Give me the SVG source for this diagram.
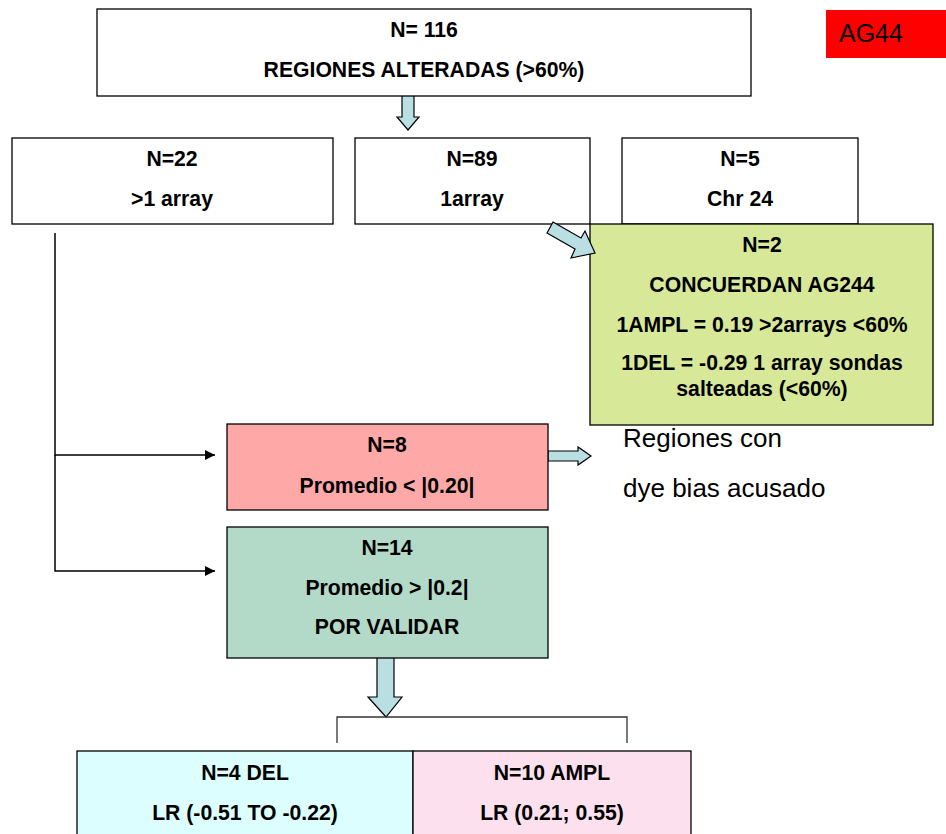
<svg xmlns="http://www.w3.org/2000/svg" width="946" height="834" viewBox="0 0 946 834">
<defs>
<style>
.box{stroke:#000;stroke-width:1.3}
.t{font-family:"Liberation Sans",Arial,sans-serif;font-weight:bold;font-size:21.2px;fill:#000;text-anchor:middle}
.n{font-family:"Liberation Sans",Arial,sans-serif;font-size:26px;fill:#000}
.ln{stroke:#000;stroke-width:1.5;fill:none}
.blk{fill:#b9dfe3;stroke:#000;stroke-width:1.2}
.br{stroke:#333;stroke-width:1.3;fill:none}
</style>
<marker id="ah" viewBox="0 0 10 10" refX="10" refY="5" markerWidth="10" markerHeight="10" markerUnits="userSpaceOnUse" orient="auto"><path d="M0,0 L10,5 L0,10 z" fill="#000"/></marker>
</defs>
<rect width="946" height="834" fill="#fff"/>
<g id="connectors">
<polyline class="ln" points="55,233 55,455 215,455" marker-end="url(#ah)"/>
<polyline class="ln" points="55,455 55,571 215,571" marker-end="url(#ah)"/>
<polygon class="blk" points="402,88 414,88 414,117 419,117 408,130 397,117 402,117"/>
<polygon class="blk" points="548,451 578,451 578,447 591,456 578,465 578,461 548,461"/>
<polygon class="blk" points="377,639 394,639 394,697 402,697 386,717 368,697 377,697"/>
<polyline class="br" points="337,743 337,717 627,717 627,743"/>
</g>
<g id="n116"><rect class="box" x="97" y="9" width="654" height="87" fill="#fff"/>
<text class="t" x="424" y="37">N= 116</text><text class="t" x="424" y="77">REGIONES ALTERADAS (&gt;60%)</text></g>
<g id="ag44"><rect x="826" y="10" width="120" height="48" fill="#ff0000"/><text class="n" x="839" y="42" style="font-size:25px">AG44</text></g>
<g id="n22"><rect class="box" x="12" y="138" width="321" height="86" fill="#fff"/>
<text class="t" x="172" y="166">N=22</text><text class="t" x="172" y="206">&gt;1 array</text></g>
<g id="n89"><rect class="box" x="355" y="138" width="235" height="86" fill="#fff"/>
<text class="t" x="472" y="166">N=89</text><text class="t" x="472" y="206">1array</text></g>
<g id="n5"><rect class="box" x="622" y="138" width="236" height="86" fill="#fff"/>
<text class="t" x="740" y="166">N=5</text><text class="t" x="740" y="206">Chr 24</text></g>
<g id="n2"><rect class="box" x="590" y="224" width="343" height="201" fill="#d7e898"/>
<text class="t" x="762" y="252">N=2</text><text class="t" x="762" y="292">CONCUERDAN AG244</text>
<text class="t" x="762" y="332">1AMPL = 0.19 &gt;2arrays &lt;60%</text>
<text class="t" x="762" y="370">1DEL = -0.29 1 array sondas</text><text class="t" x="762" y="396">salteadas (&lt;60%)</text></g>
<polygon class="blk" points="553,222 581,238 585,231 595,253 571,258 575,249 547,233"/>
<g id="n8"><rect class="box" x="227" y="424" width="321" height="86" fill="#ffa8a8"/>
<text class="t" x="387" y="452">N=8</text><text class="t" x="387" y="493">Promedio &lt; |0.20|</text></g>
<g id="dye"><text class="n" x="623" y="447">Regiones con</text><text class="n" x="623" y="497">dye bias acusado</text></g>
<g id="n14"><rect class="box" x="227" y="527" width="321" height="131" fill="#b3dac8"/>
<text class="t" x="387" y="555">N=14</text><text class="t" x="387" y="595">Promedio &gt; |0.2|</text><text class="t" x="387" y="634">POR VALIDAR</text></g>
<g id="n4"><rect class="box" x="77" y="751" width="336" height="100" fill="#dcfefe"/>
<text class="t" x="245" y="780">N=4 DEL</text><text class="t" x="245" y="820">LR (-0.51 TO -0.22)</text></g>
<g id="n10"><rect class="box" x="413" y="751" width="278" height="100" fill="#fde0ee"/>
<text class="t" x="552" y="780">N=10 AMPL</text><text class="t" x="552" y="820">LR (0.21; 0.55)</text></g>
</svg>
